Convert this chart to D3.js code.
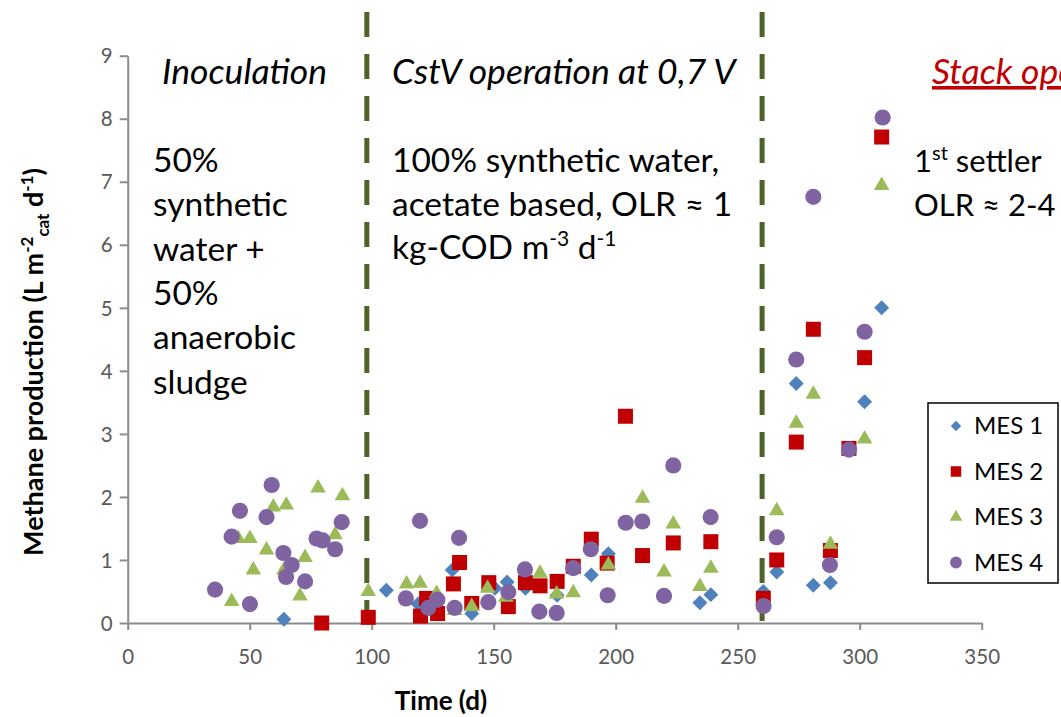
<!DOCTYPE html>
<html>
<head>
<meta charset="utf-8">
<script src="https://cdn.jsdelivr.net/npm/d3@7"></script>
<style>
  body { margin: 0; background: #fff; overflow: hidden; }
  text { font-family: Lato, "Open Sans", sans-serif; }
  .tick-label { fill: #595959; font-size: 20.5px; }
  .note { font-size: 33.5px; fill: #000; }
  .note-right { font-size: 31px; fill: #000; }
  .phase { font-size: 35.5px; font-style: italic; fill: #000; }
</style>
</head>
<body>
<div id="chart"></div>
<script>
// days vs methane production
var mes1 = [[64,0.06],[106,0.52],[119,0.3],[133,0.84],[141,0.15],[150.5,0.55],[155.5,0.65],
  [163,0.55],[176,0.44],[190,0.76],[197,1.1],[234.5,0.32],[239,0.45],[260.5,0.5],[266,0.81],
  [274,3.8],[281,0.6],[288,0.64],[302,3.51],[309,5.0]];
var mes2 = [[79.5,0.0],[98.6,0.09],[120,0.11],[122.5,0.39],[127,0.15],[133.5,0.62],[136,0.96],
  [141,0.31],[148,0.64],[156,0.26],[163,0.64],[169,0.59],[176,0.66],[182.6,0.9],[190,1.33],
  [196.5,0.95],[204,3.28],[211,1.07],[223.6,1.27],[239,1.29],[260.5,0.39],[266,1.0],[274,2.87],
  [281,4.66],[288,1.15],[295.6,2.77],[302,4.21],[309,7.71]];
var mes3 = [[42.6,0.34],[45.3,1.34],[50.1,1.34],[51.5,0.84],[56.9,1.16],[59.7,1.84],[64,0.84],
  [65,1.87],[70.6,0.43],[72.7,1.04],[78,2.14],[85,1.4],[88,2.02],[98.6,0.5],[114.3,0.62],
  [119.8,0.63],[126.6,0.47],[134,0.2],[141,0.26],[147.5,0.55],[155,0.41],[169,0.79],[175.8,0.46],
  [182.6,0.48],[197,0.92],[211,1.98],[219.8,0.81],[223.6,1.57],[234.5,0.58],[239,0.87],[266,1.78],
  [274,3.17],[281,3.63],[288,1.25],[302,2.92],[309,6.94]];
var mes4 = [[35.8,0.53],[42.6,1.37],[46,1.78],[50.1,0.3],[56.9,1.68],[59,2.19],[63.8,1.11],
  [64.9,0.73],[67.2,0.92],[72.7,0.66],[77.4,1.34],[79.9,1.31],[85,1.17],[87.7,1.6],[114,0.39],
  [119.8,1.62],[123.2,0.24],[126.9,0.37],[134,0.24],[135.8,1.35],[147.8,0.33],[156,0.49],
  [162.8,0.85],[168.7,0.18],[175.8,0.16],[182.6,0.87],[189.8,1.17],[196.7,0.44],[204.1,1.59],
  [210.9,1.61],[219.8,0.43],[223.6,2.5],[238.9,1.68],[260.6,0.27],[266,1.36],[274,4.18],
  [281,6.76],[287.8,0.92],[295.6,2.75],[302,4.62],[309.4,8.02]];

var seriesNames = ["MES 1", "MES 2", "MES 3", "MES 4"];
var xTicks = [0, 50, 100, 150, 200, 250, 300, 350];
var yTicks = [0, 1, 2, 3, 4, 5, 6, 7, 8, 9];
var phaseBounds = [98, 260];

function init() {
  var w = 1061;
  var h = 717;

  var svg = d3.select("#chart")
    .append("svg")
    .attr("width", w)
    .attr("height", h);

  var xScale = d3.scaleLinear().domain([0, 350]).range([127.7, 981.7]);
  var yScale = d3.scaleLinear().domain([0, 9]).range([623, 55.7]);

  var colors = ["#4F81BD", "#C00000", "#9BBB59", "#8064A2"];
  var shapes = [
    { type: d3.symbolSquare, size: 112, rot: 45 },
    { type: d3.symbolSquare, size: 225, rot: 0 },
    { type: d3.symbolTriangle, size: 105, rot: 0 },
    { type: d3.symbolCircle, size: 205, rot: 0 }
  ];
  var legendShapes = [
    { type: d3.symbolSquare, size: 55, rot: 45 },
    { type: d3.symbolSquare, size: 110, rot: 0 },
    { type: d3.symbolTriangle, size: 70, rot: 0 },
    { type: d3.symbolCircle, size: 110, rot: 0 }
  ];

  // axes
  var xAxis = d3.axisBottom(xScale).tickValues(xTicks).tickSize(7).tickSizeOuter(0);
  var yAxis = d3.axisLeft(yScale).tickValues(yTicks).tickSize(8).tickSizeOuter(0);

  var gx = svg.append("g")
    .attr("transform", "translate(0," + yScale(0) + ")")
    .call(xAxis);
  var gy = svg.append("g")
    .attr("transform", "translate(" + xScale(0) + ",0)")
    .call(yAxis);

  [gx, gy].forEach(function (g) {
    g.select(".domain").attr("stroke", "#8c8c8c").attr("stroke-width", 2);
    g.selectAll(".tick line").attr("stroke", "#8c8c8c").attr("stroke-width", 2);
    g.selectAll(".tick text").attr("class", "tick-label").attr("font-family", null).attr("font-size", null);
  });
  gx.selectAll(".tick text").attr("dy", "1.5em");
  gy.selectAll(".tick text").attr("x", -15).attr("dy", "0.35em");

  // phase separators
  svg.selectAll("line.phase-line")
    .data(phaseBounds)
    .enter()
    .append("line")
    .attr("class", "phase-line")
    .attr("x1", function (d) { return xScale(d); })
    .attr("x2", function (d) { return xScale(d); })
    .attr("y1", 12)
    .attr("y2", yScale(0) - 2)
    .attr("stroke", "#4F6228")
    .attr("stroke-width", 5)
    .attr("stroke-dasharray", "25,17");

  // points
  var all = [mes1, mes2, mes3, mes4];
  all.forEach(function (data, i) {
    var sym = d3.symbol().type(shapes[i].type).size(shapes[i].size);
    svg.append("g")
      .selectAll("path")
      .data(data)
      .enter()
      .append("path")
      .attr("d", sym)
      .attr("fill", colors[i])
      .attr("transform", function (d) {
        return "translate(" + xScale(d[0]) + "," + yScale(d[1]) + ") rotate(" + shapes[i].rot + ")";
      });
  });

  // phase titles
  svg.append("text").attr("class", "phase").attr("x", 162).attr("y", 84).text("Inoculation");
  svg.append("text").attr("class", "phase").attr("x", 392).attr("y", 84).text("CstV operation at 0,7 V");
  // runs off the right edge, same as the original figure
  svg.append("text").attr("class", "phase").attr("x", 932).attr("y", 84)
    .style("fill", "#C00000")
    .attr("text-decoration", "underline")
    .text("Stack operation");

  // descriptions
  var inoc = ["50%", "synthetic", "water +", "50%", "anaerobic", "sludge"];
  svg.append("g").selectAll("text")
    .data(inoc)
    .enter()
    .append("text")
    .attr("class", "note")
    .attr("x", 153)
    .attr("y", function (d, i) { return 172 + i * 44.3; })
    .text(function (d) { return d; });

  svg.append("text").attr("class", "note").attr("x", 392).attr("y", 172).text("100% synthetic water,");
  svg.append("text").attr("class", "note").attr("x", 392).attr("y", 216).text("acetate based, OLR \u2248 1");
  var t3 = svg.append("text").attr("class", "note").attr("x", 392).attr("y", 259);
  t3.append("tspan").text("kg-COD m");
  t3.append("tspan").attr("dy", -13).attr("font-size", 21).text("-3");
  t3.append("tspan").attr("dy", 13).text(" d");
  t3.append("tspan").attr("dy", -13).attr("font-size", 21).text("-1");

  var t4 = svg.append("text").attr("class", "note-right").attr("x", 914).attr("y", 172);
  t4.append("tspan").text("1");
  t4.append("tspan").attr("dy", -12).attr("font-size", 20).text("st");
  t4.append("tspan").attr("dy", 12).text(" settler");
  svg.append("text").attr("class", "note-right").attr("x", 914).attr("y", 216).text("OLR \u2248 2-4");

  // axis labels
  svg.append("text")
    .attr("x", 441).attr("y", 710)
    .attr("text-anchor", "middle")
    .attr("font-weight", "bold").attr("font-size", 26)
    .text("Time (d)");

  var yl = svg.append("text")
    .attr("transform", "translate(43,362) rotate(-90)")
    .attr("text-anchor", "middle")
    .attr("font-weight", "bold").attr("font-size", 27);
  yl.append("tspan").text("Methane production (L m");
  yl.append("tspan").attr("dy", -10).attr("font-size", 17).text("-2");
  yl.append("tspan").attr("dy", 16).attr("font-size", 17).text("cat");
  yl.append("tspan").attr("dy", -6).text(" d");
  yl.append("tspan").attr("dy", -10).attr("font-size", 17).text("-1");
  yl.append("tspan").attr("dy", 10).text(")");

  // legend
  var legend = svg.append("g");
  legend.append("rect")
    .attr("x", 928).attr("y", 403)
    .attr("width", 130).attr("height", 180)
    .attr("fill", "#fff")
    .attr("stroke", "#000").attr("stroke-width", 1.5);
  seriesNames.forEach(function (name, i) {
    var ly = 426 + i * 45.5;
    legend.append("path")
      .attr("d", d3.symbol().type(legendShapes[i].type).size(legendShapes[i].size))
      .attr("fill", colors[i])
      .attr("transform", "translate(956," + ly + ") rotate(" + legendShapes[i].rot + ")");
    legend.append("text")
      .attr("x", 974).attr("y", ly + 8)
      .attr("font-size", 24)
      .text(name);
  });
}

window.onload = init;
</script>
</body>
</html>
